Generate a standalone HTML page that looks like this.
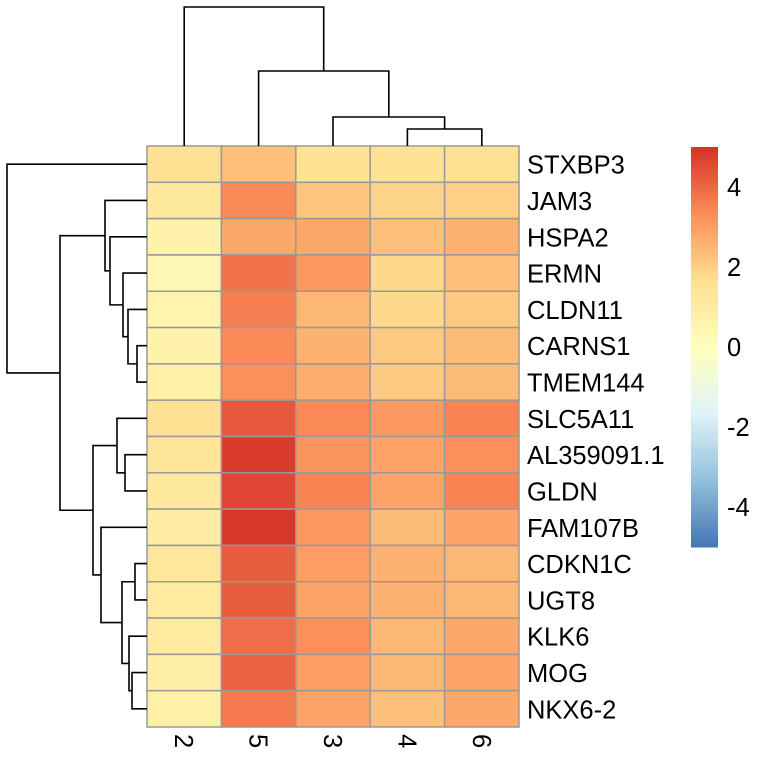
<!DOCTYPE html>
<html><head><meta charset="utf-8"><style>
html,body{margin:0;padding:0;background:#fff;}
svg{display:block;font-family:"Liberation Sans",Arial,sans-serif;}
</style></head><body>
<svg id="chart" width="768" height="768" viewBox="0 0 768 768"></svg>
<script>
const rowLabels = ["STXBP3","JAM3","HSPA2","ERMN","CLDN11","CARNS1","TMEM144","SLC5A11","AL359091.1","GLDN","FAM107B","CDKN1C","UGT8","KLK6","MOG","NKX6-2"];
const colLabels = ["2","5","3","4","6"];
const values = [
[1.6,2.3,1.5,1.5,1.6],
[1.2,3.4,2.2,1.9,2.0],
[0.7,2.8,2.8,2.3,2.6],
[0.4,3.8,3.1,1.8,2.3],
[0.6,3.6,2.5,1.8,2.1],
[0.7,3.4,2.6,2.1,2.4],
[0.8,3.3,2.7,2.1,2.4],
[1.6,4.3,3.4,3.1,3.5],
[1.4,4.8,3.2,2.9,3.3],
[1.2,4.6,3.5,2.9,3.5],
[1.0,4.9,3.1,2.4,2.9],
[1.3,4.2,3.0,2.6,2.5],
[1.1,4.2,2.9,2.6,2.5],
[1.1,3.9,3.3,2.5,2.8],
[0.9,4.1,3.0,2.5,2.9],
[0.8,3.7,2.9,2.3,2.8]];
const legendTicks = [4,2,0,-2,-4];
// row dendrogram merges: [childA, childB, height(px from left)]; leaves are row indices, nodes "nK"
const rowMerges = [
[5,6,137],[4,"n0",128],[3,"n1",123],[2,"n2",110],[1,"n3",105],
[8,9,125],[7,"n5",117],[14,15,132],[13,"n7",129],[11,12,135],["n9","n8",122],[10,"n10",101],["n6","n11",93],
["n4","n12",60],[0,"n13",7]];
const colMerges = [[3,4,129],[2,"n0",117],[1,"n1",71],[0,"n2",7]];

const NS="http://www.w3.org/2000/svg";
const svg=document.getElementById('chart');
const X0=147,X1=519,Y0=146,Y1=727;
const FS=25.5;
const cw=(X1-X0)/colLabels.length, rh=(Y1-Y0)/rowLabels.length;
const stops=["#4575B4","#91BFDB","#E0F3F8","#FFFFBF","#FEE090","#FC8D59","#D73027"];
const vmin=-5,vmax=5;
function hex(h){return [1,3,5].map(i=>parseInt(h.substr(i,2),16));}
function color(v){let t=(v-vmin)/(vmax-vmin);t=Math.max(0,Math.min(1,t))*(stops.length-1);
 let i=Math.min(stops.length-2,Math.floor(t)),f=t-i;const a=hex(stops[i]),b=hex(stops[i+1]);
 return "rgb("+a.map((c,k)=>Math.round(c+(b[k]-c)*f)).join(",")+")";}
function el(tag,attrs){const e=document.createElementNS(NS,tag);for(const k in attrs)e.setAttribute(k,attrs[k]);svg.appendChild(e);return e;}
const xC=j=>X0+cw*(j+0.5), yR=i=>Y0+rh*(i+0.5);

values.forEach((row,i)=>row.forEach((v,j)=>{
 const r=el('rect',{x:X0+cw*j,y:Y0+rh*i,width:cw,height:rh,fill:color(v),stroke:'#999',"stroke-width":1.5});
 
 
}));
rowLabels.forEach((l,i)=>{
 const t=el('text',{x:527,y:yR(i)+9.5,"font-size":FS,fill:'#000'});t.textContent=l;
 
 
});
colLabels.forEach((l,j)=>{
 const t=el('text',{x:0,y:0,"font-size":FS,fill:'#000',transform:`translate(${xC(j)-9},${734}) rotate(90)`});t.textContent=l;
 
 
});
(function(){const nodes=[];const pos=c=>typeof c==="number"?{y:yR(c),x:X0}:nodes[+c.slice(1)];
 rowMerges.forEach(m=>{const a=pos(m[0]),b=pos(m[1]),h=m[2];
  const p=el('path',{d:`M${a.x},${a.y}H${h}V${b.y}H${b.x}`,fill:'none',stroke:'#000',"stroke-width":1.6});
  
  
  nodes.push({x:h,y:(a.y+b.y)/2});});})();
(function(){const nodes=[];const pos=c=>typeof c==="number"?{x:xC(c),y:Y0}:nodes[+c.slice(1)];
 colMerges.forEach(m=>{const a=pos(m[0]),b=pos(m[1]),h=m[2];
  const p=el('path',{d:`M${a.x},${a.y}V${h}H${b.x}V${b.y}`,fill:'none',stroke:'#000',"stroke-width":1.6});
  
  
  nodes.push({x:(a.x+b.x)/2,y:h});});})();
const LX=691,LW=27,LT=147,LB=547;
const ly=v=>LB-(v-vmin)/(vmax-vmin)*(LB-LT);
for(let k=0;k<100;k++){const v0=vmin+k*(vmax-vmin)/100,v1=v0+(vmax-vmin)/100;
 const r=el('rect',{x:LX,y:ly(v1),width:LW,height:ly(v0)-ly(v1)+0.5,fill:color((v0+v1)/2)});
 
 }
legendTicks.forEach(v=>{const t=el('text',{x:727,y:ly(v)+9,"font-size":FS,fill:'#000'});t.textContent=v;
 
 });
</script>
</body></html>
